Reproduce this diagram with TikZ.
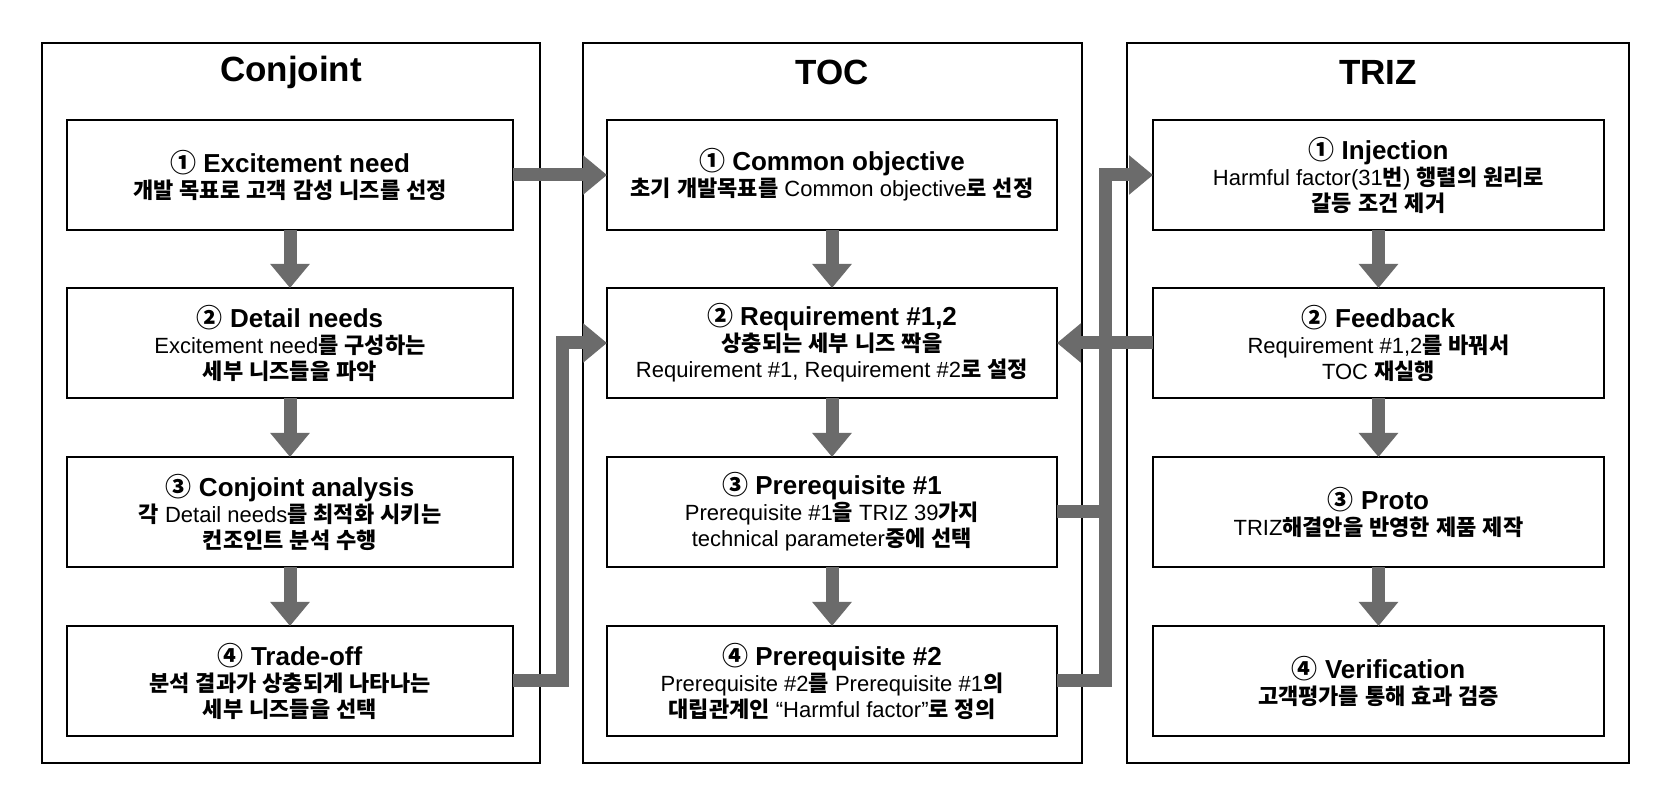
\documentclass[tikz,border=0pt]{standalone}
\usepackage{fontspec}
\usetikzlibrary{arrows.meta}
\setmainfont{Liberation Sans}
\newfontfamily\krfam{Noto Sans CJK KR}
% automatic switching to the Korean font for Hangul and circled digits
\XeTeXinterchartokenstate=1
\newXeTeXintercharclass\krclass
\newXeTeXintercharclass\ccclass
\count255="AC00
\loop
  \XeTeXcharclass\count255=\krclass
  \ifnum\count255<"D7A3 \advance\count255 by 1
\repeat
\XeTeXcharclass"2460=\ccclass
\XeTeXcharclass"2461=\ccclass
\XeTeXcharclass"2462=\ccclass
\XeTeXcharclass"2463=\ccclass
\newcommand\setkrtoks[1]{%
  \ifnum#1=\krclass\relax\else\ifnum#1=\ccclass\relax\else
  \XeTeXinterchartoks #1 \krclass = {\krfam\bfseries}%
  \XeTeXinterchartoks \krclass #1 = {\rmfamily\mdseries}%
  \XeTeXinterchartoks #1 \ccclass = {\krfam}%
  \XeTeXinterchartoks \ccclass #1 = {\rmfamily}%
  \fi\fi}
\setkrtoks{0}\setkrtoks{1}\setkrtoks{2}\setkrtoks{3}\setkrtoks{4095}
\definecolor{arrowgray}{gray}{0.42}
\newcommand\hd[1]{{\fontsize{13}{13}\selectfont\bfseries #1}}
\begin{document}
\begin{tikzpicture}[x=0.5pt,y=-0.5pt,
  obox/.style={draw, line width=0.7pt, inner sep=0pt, outer sep=0pt, minimum height=360pt},
  ibox/.style={draw, line width=0.8pt, inner sep=0pt, outer sep=0pt, minimum height=55pt,
    align=center, font=\fontsize{11}{13}\selectfont},
  ttl/.style={font=\fontsize{17.5}{20}\selectfont\bfseries, inner sep=0pt},
  flow/.style={draw=arrowgray, line width=6.5pt, line join=miter, -{Triangle[width=19pt,length=12pt]}},
  flowline/.style={draw=arrowgray, line width=6.5pt, line join=miter}]
\fill[white] (0,0) rectangle (1656,785);
\useasboundingbox (0,0) rectangle (1656,785);

% column frames
\node[obox, minimum width=249pt] (conj) at (291,403) {};
\node[obox, minimum width=249.5pt] (toc) at (832.5,403) {};
\node[obox, minimum width=251pt] (triz) at (1378,403) {};

% titles
\node[ttl] (conjt) at (291,72) {Conjoint};
\node[ttl] (toct) at (832.5,72) {TOC};
\node[ttl] (trizt) at (1378,72) {TRIZ};

% Conjoint column
\node[ibox, minimum width=223pt] (c1) at (290,175) {\hd{① Excitement need}\\개발 목표로 고객 감성 니즈를 선정};
\node[ibox, minimum width=223pt] (c2) at (290,343) {\hd{② Detail needs}\\Excitement need를 구성하는\\세부 니즈들을 파악};
\node[ibox, minimum width=223pt] (c3) at (290,512) {\hd{③ Conjoint analysis}\\각 Detail needs를 최적화 시키는\\컨조인트 분석 수행};
\node[ibox, minimum width=223pt] (c4) at (290,681) {\hd{④ Trade-off}\\분석 결과가 상충되게 나타나는\\세부 니즈들을 선택};

% TOC column
\node[ibox, minimum width=225pt] (t1) at (832,175) {\hd{① Common objective}\\초기 개발목표를 Common objective로 선정};
\node[ibox, minimum width=225pt] (t2) at (832,343) {\hd{② Requirement \#1,2}\\상충되는 세부 니즈 짝을\\Requirement \#1, Requirement \#2로 설정};
\node[ibox, minimum width=225pt] (t3) at (832,512) {\hd{③ Prerequisite \#1}\\Prerequisite \#1을 TRIZ 39가지\\technical parameter중에 선택};
\node[ibox, minimum width=225pt] (t4) at (832,681) {\hd{④ Prerequisite \#2}\\Prerequisite \#2를 Prerequisite \#1의\\대립관계인 “Harmful factor”로 정의};

% TRIZ column
\node[ibox, minimum width=225.5pt] (r1) at (1378.5,175) {\hd{① Injection}\\Harmful factor(31번) 행렬의 원리로\\갈등 조건 제거};
\node[ibox, minimum width=225.5pt] (r2) at (1378.5,343) {\hd{② Feedback}\\Requirement \#1,2를 바꿔서\\TOC 재실행};
\node[ibox, minimum width=225.5pt] (r3) at (1378.5,512) {\hd{③ Proto}\\TRIZ해결안을 반영한 제품 제작};
\node[ibox, minimum width=225.5pt] (r4) at (1378.5,681) {\hd{④ Verification}\\고객평가를 통해 효과 검증};

% vertical flows
\draw[flow] (c1.south) -- (c2.north);
\draw[flow] (c2.south) -- (c3.north);
\draw[flow] (c3.south) -- (c4.north);
\draw[flow] (t1.south) -- (t2.north);
\draw[flow] (t2.south) -- (t3.north);
\draw[flow] (t3.south) -- (t4.north);
\draw[flow] (r1.south) -- (r2.north);
\draw[flow] (r2.south) -- (r3.north);
\draw[flow] (r3.south) -- (r4.north);

% cross-column flows
\coordinate (j1) at (562,0);
\coordinate (j2) at (1105.5,0);
\draw[flow] (c1.east) -- (t1.west);
\draw[flow] (c4.east) -| (j1 |- t2.west) -- (t2.west);
\draw[flowline] (t4.east) -| (j2 |- t3.east);
\draw[flow] (t3.east) -| (j2 |- r1.west) -- (r1.west);
\draw[flow] (r2.west) -- (t2.east);
\end{tikzpicture}
\end{document}
